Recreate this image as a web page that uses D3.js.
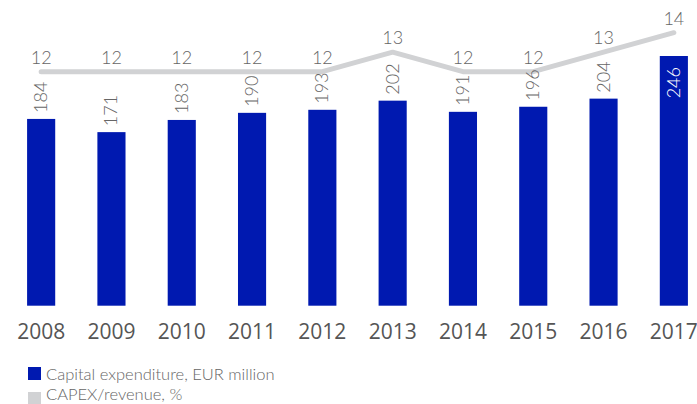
<!DOCTYPE html>
<html><head><meta charset="utf-8">
<script src="https://cdn.jsdelivr.net/npm/d3@7"></script>
<style>body{margin:0;background:#fff}svg{display:block}</style>
</head><body>
<script>
const years = ["2008","2009","2010","2011","2012","2013","2014","2015","2016","2017"];
const capex = [184,171,183,190,193,202,191,196,204,246];
const ratio = [12,12,12,12,12,13,12,12,13,14];
const legendLabels = ["Capital expenditure, EUR million","CAPEX/revenue, %"];

const W=697,H=404;
const svg=d3.select("body").append("svg").attr("width",W).attr("height",H);
const x=d3.scaleBand().domain(years).range([6,709]).paddingInner(0.6).paddingOuter(0.3);
const base=305.7;
const yBar=d3.scaleLinear().domain([0,246]).range([base,base-249.7]);
const yLine=d3.scaleLinear().domain([0,14]).range([base,base-14*19.5]);
const cx=d=>x(d)+x.bandwidth()/2;
const blue="#0019b0", grey="#d1d2d4", txt="#666";
const font="Lato, 'Open Sans', sans-serif";

svg.selectAll("rect.bar").data(capex).enter().append("rect")
  .attr("x",(d,i)=>x(years[i])).attr("width",x.bandwidth())
  .attr("y",d=>yBar(d)).attr("height",d=>base-yBar(d)).attr("fill",blue);

svg.append("path").datum(ratio)
  .attr("d",d3.line().x((d,i)=>cx(years[i])).y(d=>yLine(d)))
  .attr("fill","none").attr("stroke",grey).attr("stroke-width",5)
  .attr("stroke-linecap","round").attr("stroke-linejoin","round");

svg.selectAll("text.rl").data(ratio).enter().append("text")
  .attr("x",(d,i)=>cx(years[i])).attr("y",d=>yLine(d)-8)
  .attr("text-anchor","middle").attr("font-family",font).attr("font-weight",300)
  .attr("font-size",18).attr("fill",txt).text(d=>d);

svg.selectAll("text.bl").data(capex).enter().append("text")
  .attr("transform",(d,i)=>{
    const inside=i===capex.length-1;
    const yy=inside?yBar(d)+11:yBar(d)-6;
    return `translate(${cx(years[i])+6},${yy}) rotate(-90)`;})
  .attr("text-anchor",(d,i)=>i===capex.length-1?"end":"start")
  .attr("font-family",font).attr("font-weight",300).attr("font-size",18)
  .attr("fill",(d,i)=>i===capex.length-1?"#fff":txt).text(d=>d);

svg.selectAll("text.yr").data(years).enter().append("text")
  .attr("x",d=>cx(d)).attr("y",339).attr("text-anchor","middle")
  .attr("font-family","'Open Sans', sans-serif").attr("font-size",21).attr("fill","#555").text(d=>d);

const lg=svg.append("g");
[blue,grey].forEach((c,i)=>{
  lg.append("rect").attr("x",28).attr("y",367+i*25).attr("width",13).attr("height",13).attr("fill",c);
  lg.append("text").attr("x",46).attr("y",380+i*20).attr("font-family",font).attr("font-weight",300)
    .attr("font-size",16.5).attr("fill",txt).text(legendLabels[i]);
});
</script>
</body></html>
